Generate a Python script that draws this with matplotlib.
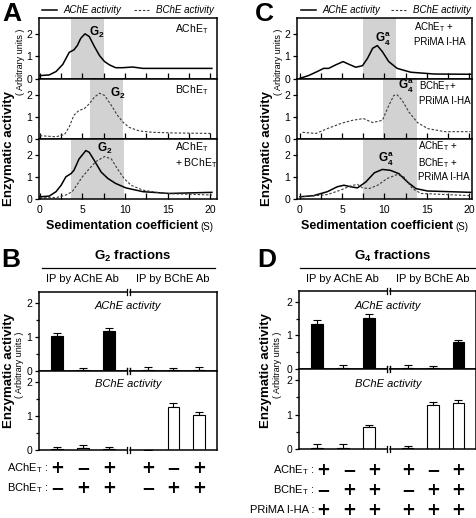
import matplotlib
matplotlib.use("Agg")
import matplotlib.pyplot as plt
import matplotlib.transforms as mtransforms
from matplotlib.lines import Line2D
import numpy as np

plt.rcParams["font.family"] = ["Liberation Sans", "DejaVu Sans"]
plt.rcParams["mathtext.fontset"] = "custom"
plt.rcParams["mathtext.rm"] = "Liberation Sans"
plt.rcParams["mathtext.bf"] = "Liberation Sans:bold"
plt.rcParams["mathtext.it"] = "Liberation Sans:italic"

W, H = 477, 518

# ---------------- sucrose gradient profiles (S value, activity) ----------------
# panel A, AChE_T alone (AChE activity)
a1_s = [0, 1.1, 1.9, 2.7, 3.45, 4.0, 4.4, 4.8, 5.3, 5.8, 6.4, 7.0, 7.6, 8.2, 8.9, 9.7, 10.9, 12.1, 15.2, 20.2]
a1_y = [0.15, 0.18, 0.33, 0.65, 1.18, 1.29, 1.48, 1.80, 2.00, 1.88, 1.44, 1.04, 0.77, 0.62, 0.50, 0.50, 0.53, 0.47, 0.47, 0.47]
# panel A, BChE_T alone (BChE activity)
a2_s = [0, 1.9, 2.9, 3.45, 4.0, 4.6, 5.2, 5.8, 6.4, 7.0, 7.6, 8.4, 9.1, 9.8, 10.5, 11.7, 13.3, 16.0, 20.2]
a2_y = [0.15, 0.10, 0.20, 0.55, 1.07, 1.29, 1.36, 1.58, 1.88, 2.06, 1.96, 1.51, 1.07, 0.74, 0.52, 0.36, 0.30, 0.27, 0.25]
# panel A, AChE_T + BChE_T
a3_ache_s = [0, 1.1, 1.9, 2.5, 3.06, 3.65, 4.0, 4.6, 5.4, 5.8, 6.4, 7.2, 8.0, 8.9, 10.1, 12.1, 15.2, 20.2]
a3_ache_y = [0.10, 0.13, 0.33, 0.62, 1.00, 1.14, 1.29, 1.80, 2.18, 2.10, 1.73, 1.21, 0.92, 0.70, 0.50, 0.33, 0.25, 0.30]
a3_bche_s = [0, 1.9, 3.06, 3.8, 5.0, 5.8, 6.6, 7.6, 8.4, 9.1, 9.9, 10.7, 12.1, 14.5, 20.2]
a3_bche_y = [0.06, 0.06, 0.18, 0.33, 1.00, 1.36, 1.69, 1.91, 1.80, 1.36, 0.92, 0.62, 0.40, 0.25, 0.18]
# panel C, AChE_T + PRiMA I-HA
c1_s = [0, 1.0, 2.05, 2.8, 3.4, 4.2, 5.1, 5.8, 6.6, 7.4, 8.0, 8.6, 9.15, 9.75, 10.5, 11.5, 13.1, 15.9, 20.2]
c1_y = [0.03, 0.15, 0.33, 0.47, 0.47, 0.62, 0.77, 0.65, 0.52, 0.59, 0.92, 1.36, 1.48, 1.21, 0.77, 0.47, 0.30, 0.22, 0.21]
# panel C, BChE_T + PRiMA I-HA
c2_s = [0.3, 1.9, 3.25, 4.85, 6.2, 7.5, 8.6, 9.75, 10.5, 11.1, 11.5, 12.1, 12.9, 13.9, 15.1, 17.1, 20.2]
c2_y = [0.30, 0.25, 0.47, 0.70, 0.84, 0.92, 0.74, 0.84, 1.50, 1.96, 1.99, 1.73, 1.21, 0.74, 0.47, 0.33, 0.33]
# panel C, AChE_T + BChE_T + PRiMA I-HA
c3_ache_s = [0, 1.6, 3.25, 4.4, 5.2, 6.0, 6.8, 7.8, 8.8, 9.75, 10.7, 11.7, 12.7, 13.7, 15.1, 20.2]
c3_ache_y = [0.10, 0.15, 0.33, 0.55, 0.62, 0.55, 0.50, 0.77, 1.18, 1.33, 1.29, 1.14, 0.77, 0.47, 0.36, 0.30]
c3_bche_s = [0, 3.25, 4.8, 6.0, 6.8, 7.4, 8.2, 9.2, 10.3, 11.5, 12.3, 13.3, 14.3, 20.2]
c3_bche_y = [0.09, 0.20, 0.40, 0.59, 0.66, 0.50, 0.47, 0.62, 0.92, 1.10, 0.99, 0.47, 0.25, 0.15]

a_bands = [(3.6, 7.5), (5.9, 9.8), (3.7, 9.85)]
c_bands = [(7.5, 11.4), (9.8, 13.8), (7.5, 13.8)]

# ---------------- immunoprecipitation bars ----------------
b_ache_mean = [1.04, 0.04, 1.18, 0.04, 0.03, 0.04]
b_ache_err = [0.07, 0.05, 0.07, 0.08, 0.06, 0.08]
b_bche_mean = [0.03, 0.05, 0.03, 0.01, 1.27, 1.03]
b_bche_err = [0.07, 0.09, 0.06, 0.0, 0.10, 0.08]
d_ache_mean = [1.34, 0.03, 1.51, 0.03, 0.03, 0.80]
d_ache_err = [0.12, 0.08, 0.12, 0.10, 0.07, 0.06]
d_bche_mean = [0.04, 0.02, 0.64, 0.02, 1.27, 1.32]
d_bche_err = [0.10, 0.13, 0.07, 0.06, 0.10, 0.11]

ache_t_signs = ["+", "\u2212", "+", "+", "\u2212", "+"]
bche_t_signs = ["\u2212", "+", "+", "\u2212", "+", "+"]
prima_signs = ["+", "+", "+", "+", "+", "+"]

ACHE_T = "AChE$_\\mathregular{T}$"
BCHE_T = "BChE$_\\mathregular{T}$"
G2 = "G$_\\mathregular{2}$"
G4A = "G$_\\mathregular{4}^\\mathregular{a}$"


def fx(px):
    return px / W


def fy(py):
    return 1 - py / H


def add_ax(fig, left, top, right, bottom):
    return fig.add_axes([left / W, 1 - bottom / H, (right - left) / W, (bottom - top) / H])


def style_profile_ax(ax, xlim, bottom_row):
    ax.set_xlim(*xlim)
    ax.set_ylim(0, 2.7)
    ax.set_yticks([0, 1, 2])
    ax.set_xticks([0, 5, 10, 15, 20])
    ax.set_xticks([2.5, 7.5, 12.5, 17.5], minor=True)
    ax.tick_params(axis="x", which="both", direction="in", length=4, width=0.9, labelsize=7.5, pad=4)
    ax.tick_params(axis="y", direction="out", length=3, width=0.9, labelsize=7.5, pad=2)
    if not bottom_row:
        ax.set_xticklabels([])
    for sp in ax.spines.values():
        sp.set_linewidth(1.1)


def draw_solid(ax, s, y):
    ax.plot(s, y, color="black", lw=1.1)


def draw_dashed(ax, s, y):
    ax.plot(s, y, color="#3a3a3a", lw=0.8, linestyle=(0, (2.2, 1.6)))


def profile_panel(fig, left, right, xlim, rows, bands):
    tops = [18, 79, 139, 199]
    axes = []
    for i, (solid, dashed) in enumerate(rows):
        ax = add_ax(fig, left, tops[i], right, tops[i + 1])
        ax.axvspan(*bands[i], color="#d2d2d2", lw=0, zorder=0)
        if solid is not None:
            draw_solid(ax, *solid)
        if dashed is not None:
            draw_dashed(ax, *dashed)
        style_profile_ax(ax, xlim, i == 2)
        axes.append(ax)
    return axes


def bar_row(fig, lims, top, bottom, means, errs, color):
    left, gap_l, gap_r, right = lims
    ax_l = add_ax(fig, left, top, gap_l, bottom)
    ax_r = add_ax(fig, gap_r, top, right, bottom)
    pos = np.array([1, 2, 3])
    for ax, sl in ((ax_l, slice(0, 3)), (ax_r, slice(3, 6))):
        m = np.array(means[sl])
        e = np.array(errs[sl])
        ax.bar(pos, m, width=0.45, color=color, edgecolor="black", linewidth=0.8, zorder=2)
        ax.errorbar(pos, m, yerr=[np.zeros(3), e], fmt="none", ecolor="black",
                    elinewidth=0.8, capsize=3, capthick=0.8, zorder=1)
        ax.set_xlim(0.3, 3.7)
        ax.set_ylim(0, 2.32)
        ax.set_xticks([])
        for sp in ax.spines.values():
            sp.set_linewidth(1.1)
    ax_l.spines["right"].set_visible(False)
    ax_r.spines["left"].set_visible(False)
    ax_r.set_yticks([])
    ax_l.set_yticks([0, 1, 2])
    ax_l.set_yticks([0.5, 1.5], minor=True)
    ax_l.tick_params(axis="y", which="both", direction="out", length=3, width=0.9, labelsize=7.5, pad=2)
    ax_l.tick_params(axis="y", which="minor", length=2)
    d = 3.0 / (bottom - top)
    for ax, x in ((ax_l, 1), (ax_r, 0)):
        for y in (0, 1):
            ax.plot([x, x], [y - d, y + d], transform=ax.transAxes, color="black",
                    lw=0.9, clip_on=False)
    return ax_l, ax_r


def sign_rows(fig, ax_l, ax_r, label_x, rows, left_shift=0.0):
    for label, y, signs in rows:
        fig.text(fx(label_x), fy(y), label + " :", ha="right", va="center", fontsize=8)
        for ax, group, shift in ((ax_l, signs[:3], left_shift), (ax_r, signs[3:], 0.0)):
            tr = mtransforms.blended_transform_factory(ax.transData, fig.transFigure)
            for p, sg in zip([1, 2, 3], group):
                fig.text(p + shift, fy(y), sg, transform=tr, ha="center", va="center",
                         fontsize=12, fontweight="bold", family="DejaVu Sans")


fig = plt.figure(figsize=(W / 100, H / 100), dpi=100)

# ---------------- panel A ----------------
profile_panel(fig, 39, 217, (-0.1, 20.8),
              [((a1_s, a1_y), None), (None, (a2_s, a2_y)),
               ((a3_ache_s, a3_ache_y), (a3_bche_s, a3_bche_y))], a_bands)
fig.text(fx(175), fy(29), ACHE_T, ha="left", va="center", fontsize=7.5)
fig.text(fx(97), fy(32), G2, ha="center", va="center", fontsize=8.5, fontweight="bold")
fig.text(fx(175), fy(90), BCHE_T, ha="left", va="center", fontsize=7.5)
fig.text(fx(118), fy(93), G2, ha="center", va="center", fontsize=8.5, fontweight="bold")
fig.text(fx(175), fy(155), ACHE_T + "\n+ " + BCHE_T, ha="left", va="center", fontsize=7.5, linespacing=1.3)
fig.text(fx(105), fy(148), G2, ha="center", va="center", fontsize=8.5, fontweight="bold")

# ---------------- panel C ----------------
profile_panel(fig, 297, 472, (-0.35, 20.35),
              [((c1_s, c1_y), None), (None, (c2_s, c2_y)),
               ((c3_ache_s, c3_ache_y), (c3_bche_s, c3_bche_y))], c_bands)
fig.text(fx(414), fy(34), ACHE_T + " +\nPRiMA I-HA", ha="left", va="center", fontsize=7, linespacing=1.35)
fig.text(fx(383), fy(39), G4A, ha="center", va="center", fontsize=8.5, fontweight="bold")
fig.text(fx(419), fy(93), BCHE_T + "+\nPRiMA I-HA", ha="left", va="center", fontsize=7, linespacing=1.35)
fig.text(fx(406), fy(86), G4A, ha="center", va="center", fontsize=8.5, fontweight="bold")
fig.text(fx(418), fy(161), ACHE_T + " +\n" + BCHE_T + " +\nPRiMA I-HA", ha="left", va="center",
         fontsize=7, linespacing=1.3)
fig.text(fx(386), fy(159), G4A, ha="center", va="center", fontsize=8.5, fontweight="bold")

# legends above A and C
handles = [Line2D([], [], color="black", lw=1.1),
           Line2D([], [], color="#3a3a3a", lw=0.8, linestyle=(0, (2.2, 1.6)))]
for cx, colsp in ((128, 1.3), (386, 1.1)):
    fig.legend(handles, ["AChE activity", "BChE activity"], loc="center",
               bbox_to_anchor=(fx(cx), fy(10)), ncol=2, frameon=False,
               handlelength=1.5, handletextpad=0.7, columnspacing=colsp,
               prop={"style": "italic", "size": 7}, borderpad=0, borderaxespad=0)

# x labels
for right_end in (198, 453):
    fig.text(fx(right_end), fy(226), "Sedimentation coefficient", ha="right", va="center",
             fontsize=9, fontweight="bold")
    fig.text(fx(right_end + 2), fy(227), "(S)", ha="left", va="center", fontsize=7)

# ---------------- panel B ----------------
b_lims = (39, 127, 130, 217)
bu_l, bu_r = bar_row(fig, b_lims, 292, 371, b_ache_mean, b_ache_err, "black")
bl_l, bl_r = bar_row(fig, b_lims, 371, 450, b_bche_mean, b_bche_err, "white")
fig.text(fx(128), fy(306), "AChE activity", ha="center", va="center", fontsize=8, style="italic")
fig.text(fx(128), fy(384), "BChE activity", ha="center", va="center", fontsize=8, style="italic")
sign_rows(fig, bl_l, bl_r, 48, [(ACHE_T, 468, ache_t_signs), (BCHE_T, 488, bche_t_signs)])

# ---------------- panel D ----------------
d_lims = (299, 387, 390, 476)
du_l, du_r = bar_row(fig, d_lims, 291, 369, d_ache_mean, d_ache_err, "black")
dl_l, dl_r = bar_row(fig, d_lims, 369, 449, d_bche_mean, d_bche_err, "white")
fig.text(fx(388), fy(306), "AChE activity", ha="center", va="center", fontsize=8, style="italic")
fig.text(fx(388), fy(384), "BChE activity", ha="center", va="center", fontsize=8, style="italic")
sign_rows(fig, dl_l, dl_r, 314, [(ACHE_T, 470, ache_t_signs), (BCHE_T, 490, bche_t_signs),
                                 ("PRiMA I-HA", 510, prima_signs)], left_shift=0.22)

# headers of B and D
for cx, x0, x1, gtxt, ip_a, ip_b in ((132, 42, 215, G2, 82, 173), (392, 300, 475, "G$_\\mathregular{4}$", 342, 433)):
    fig.text(fx(cx), fy(256), gtxt + " fractions", ha="center", va="center", fontsize=9.5, fontweight="bold")
    fig.add_artist(Line2D([fx(x0), fx(x1)], [fy(268), fy(268)], color="black", lw=0.9))
    fig.text(fx(ip_a), fy(279), "IP by AChE Ab", ha="center", va="center", fontsize=8)
    fig.text(fx(ip_b), fy(279), "IP by BChE Ab", ha="center", va="center", fontsize=8)

# y labels
for x_main, x_sub, yc_main, yc_sub in ((9, 21, 148, 62), (267, 279, 148, 62), (9, 20, 370, 365), (266, 278, 370, 365)):
    fig.text(fx(x_main), fy(yc_main), "Enzymatic activity", rotation=90, ha="center", va="center",
             fontsize=9.5, fontweight="bold")
    fig.text(fx(x_sub), fy(yc_sub), "( Arbitrary units )", rotation=90, ha="center", va="center",
             fontsize=6.5)

# panel letters
for letter, x, y in (("A", 2, 2), ("C", 255, 2), ("B", 1, 248), ("D", 257, 248)):
    fig.text(fx(x), fy(y), letter, ha="left", va="top", fontsize=19, fontweight="bold")

fig.savefig("out.png", dpi=100)
